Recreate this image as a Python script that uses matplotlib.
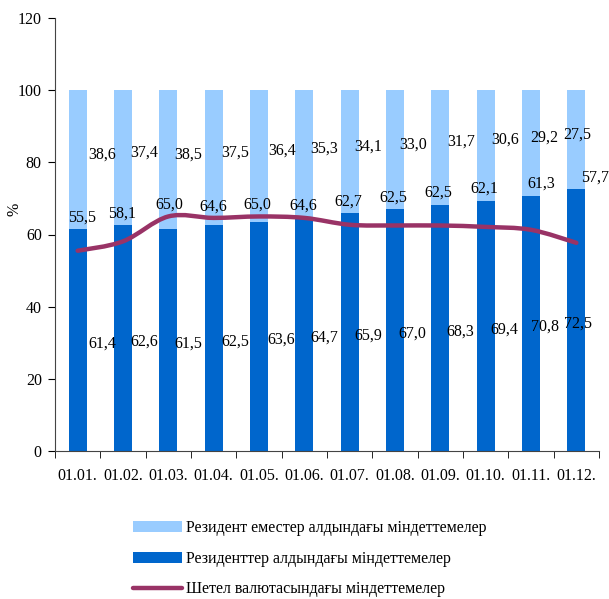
import numpy as np
import matplotlib
matplotlib.use('Agg')
import matplotlib.pyplot as plt
from matplotlib.path import Path
from matplotlib.patches import PathPatch, Patch
from matplotlib.lines import Line2D

plt.rcParams['font.family'] = ['Liberation Serif', 'DejaVu Serif']

dates = ['01.01.', '01.02.', '01.03.', '01.04.', '01.05.', '01.06.',
         '01.07.', '01.08.', '01.09.', '01.10.', '01.11.', '01.12.']
residents = [61.4, 62.6, 61.5, 62.5, 63.6, 64.7, 65.9, 67.0, 68.3, 69.4, 70.8, 72.5]
nonResidents = [38.6, 37.4, 38.5, 37.5, 36.4, 35.3, 34.1, 33.0, 31.7, 30.6, 29.2, 27.5]
foreignCurrency = [55.5, 58.1, 65.0, 64.6, 65.0, 64.6, 62.7, 62.5, 62.5, 62.1, 61.3, 57.7]

legendLabels = ['Резидент еместер алдындағы міндеттемелер',
                'Резиденттер алдындағы міндеттемелер',
                'Шетел валютасындағы міндеттемелер']

lightBlue = '#99CCFF'
darkBlue = '#0066CC'
maroon = '#993366'
fs = 11.5

def fmt(v):
    return f'{v:.1f}'.replace('.', ',')

def smooth_path(xs, ys):
    # catmull-rom style bezier, like the smoothed line in excel
    pts = np.column_stack([xs, ys]).astype(float)
    ext = np.vstack([pts[0], pts, pts[-1]])
    verts = [tuple(pts[0])]
    codes = [Path.MOVETO]
    for i in range(len(pts) - 1):
        p0, p1, p2, p3 = ext[i], ext[i + 1], ext[i + 2], ext[i + 3]
        c1 = p1 + (p2 - p0) / 6
        c2 = p2 - (p3 - p1) / 6
        verts += [tuple(c1), tuple(c2), tuple(p2)]
        codes += [Path.CURVE4] * 3
    return Path(verts, codes)

fig = plt.figure(figsize=(6.09, 5.99), dpi=100)
ax = fig.add_axes([55 / 609, 1 - 451 / 599, 544 / 609, 433 / 599])

x = np.arange(len(dates))
res = np.array(residents)
non = np.array(nonResidents)
ax.bar(x, res, width=0.4, color=darkBlue, zorder=2)
ax.bar(x, non, width=0.4, bottom=res, color=lightBlue, zorder=2)

patch = PathPatch(smooth_path(x, foreignCurrency), facecolor='none',
                  edgecolor=maroon, lw=3.2, capstyle='round', zorder=3)
ax.add_patch(patch)

# label placement, roughly as the hand-placed labels in the original
barOffsets = [0.54, 0.47, 0.43, 0.48, 0.5, 0.43, 0.41, 0.39, 0.45, 0.42, 0.3, 0.03]
lineOffsets = [0.1, -0.03, 0.02, 0.0, -0.03, -0.03, -0.03, -0.03, -0.05, -0.03, 0.22, 0.42]
for i in range(len(dates)):
    ax.text(x[i] + barOffsets[i], res[i] / 2 - 1.0, fmt(res[i]), ha='center', va='center',
            fontsize=fs, zorder=4)
    ax.text(x[i] + barOffsets[i], res[i] + non[i] / 2 + 1.5, fmt(non[i]), ha='center',
            va='center', fontsize=fs, zorder=4)
    top = max(foreignCurrency[i], res[i])
    ax.text(x[i] + lineOffsets[i], top + 1.0, fmt(foreignCurrency[i]), ha='center',
            va='bottom', fontsize=fs, zorder=4)

ax.set_xlim(-0.5, len(dates) - 0.5)
ax.set_ylim(0, 120)
ax.set_yticks(np.arange(0, 121, 20))
ax.set_xticks(x)
ax.set_xticklabels(dates)
ax.set_xticks(np.arange(-0.5, len(dates), 1), minor=True)
ax.tick_params(axis='x', which='major', length=0, pad=12, labelsize=fs)
ax.tick_params(axis='x', which='minor', length=5, direction='out')
ax.tick_params(axis='y', length=5, direction='out', labelsize=fs, pad=4.5)
for s in ['top', 'right']:
    ax.spines[s].set_visible(False)
for s in ['left', 'bottom']:
    ax.spines[s].set_color('#444444')
ax.set_ylabel('%', fontsize=fs)
ax.yaxis.set_label_coords(-0.059, 0.557)

handles = [Patch(facecolor=lightBlue, edgecolor='none'),
           Patch(facecolor=darkBlue, edgecolor='none'),
           Line2D([0], [0], color=maroon, lw=3.2, solid_capstyle='round')]
fig.legend(handles, legendLabels, loc='upper left', bbox_to_anchor=(133 / 609, 1 - 520 / 599),
           frameon=False, fontsize=fs, handlelength=3.05, handleheight=0.7,
           handletextpad=0.25, labelspacing=0.92, borderpad=0, borderaxespad=0)

fig.savefig('out.png', dpi=100)
